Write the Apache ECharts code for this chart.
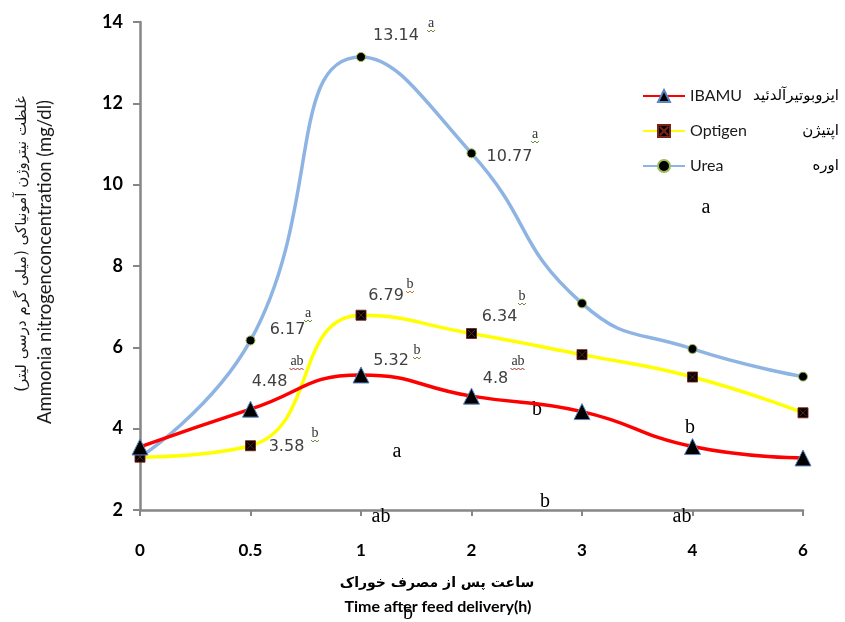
<!DOCTYPE html>
<html>
<head>
<meta charset="utf-8">
<script src="https://cdn.jsdelivr.net/npm/echarts@6/dist/echarts.min.js"></script>
<style>html,body{margin:0;padding:0;background:#fff}#c{width:845px;height:622px}</style>
</head>
<body>
<div id="c"></div>
<script>
// ---- data ----
const categories = ['0', '0.5', '1', '2', '3', '4', '6'];
const ibamu   = [3.55, 4.48, 5.32, 4.8, 4.42, 3.56, 3.28];
const optigen = [3.3, 3.58, 6.79, 6.34, 5.82, 5.27, 4.39];
const urea    = [3.3, 6.17, 13.14, 10.77, 7.08, 5.96, 5.28];
const seriesNames = ['IBAMU', 'Optigen', 'Urea'];
const seriesNamesFa = ['ایزوبوتیرآلدئید', 'اپتیژن', 'اوره'];
const labelledIdx = [1, 2, 3];
const yTicks = [2, 4, 6, 8, 10, 12, 14];

// ---- layout of labels (styling) ----
const labelOffsets = {
  IBAMU:   {1: [19, -27], 2: [30, -14], 3: [24, -17]},
  Optigen: {1: [36, 1],   2: [25, -19], 3: [28, -17]},
  Urea:    {1: [37, -11], 2: [35, -21], 3: [38, 3]}
};
// significance letters (annotation text) with pixel placement
const smallLetters = [
  ['a', 431, 23, '#6a8f3a'], ['a', 535, 134, '#6a8f3a'], ['a', 308, 313, '#6a8f3a'],
  ['b', 410, 284, '#c07a1a'], ['b', 522, 296, '#6a8f3a'], ['ab', 297, 361, '#a0322a'],
  ['b', 417, 350, '#6a8f3a'], ['ab', 518, 361, '#a0322a'], ['b', 315, 433, '#6a8f3a']
];
const bigLetters = [
  ['a', 706, 208], ['a', 397, 452], ['b', 537, 410], ['b', 690, 428],
  ['b', 545, 502], ['ab', 381, 517], ['ab', 682, 517], ['b', 408, 614]
];

const FONT = 'Lato, "DejaVu Sans", sans-serif';
const chart = echarts.init(document.getElementById('c'));

function buildData(name, values) {
  return values.map((v, i) => {
    if (labelledIdx.indexOf(i) < 0) return v;
    return {
      value: v,
      label: {
        show: true, position: 'inside', offset: labelOffsets[name][i],
        formatter: String(v), color: '#404040', fontSize: 16, fontFamily: '"DejaVu Sans", sans-serif'
      }
    };
  });
}

const styles = {
  IBAMU:   {color: '#FF0000', symbol: 'triangle', size: 16, fill: '#000', border: '#5b86c0', bw: 1},
  Optigen: {color: '#FFFF00', symbol: 'path://M0,0H10V10H0Z M1.5,1.5L8.5,8.5 M8.5,1.5L1.5,8.5', size: 10, fill: '#000', border: '#7a2418', bw: 0.9},
  Urea:    {color: '#8EB4E3', symbol: 'circle', size: 9, fill: '#000', border: '#9BBB59', bw: 1}
};
const values = {IBAMU: ibamu, Optigen: optigen, Urea: urea};

const series = seriesNames.map(n => ({
  name: n, type: 'line', smooth: 0.5,
  data: buildData(n, values[n]),
  symbol: styles[n].symbol, symbolSize: styles[n].size, showAllSymbol: true,
  lineStyle: {color: styles[n].color, width: 3.5},
  itemStyle: {color: styles[n].fill, borderColor: styles[n].border, borderWidth: styles[n].bw},
  z: n === 'IBAMU' ? 4 : (n === 'Optigen' ? 3 : 2)
}));

const graphics = [];
smallLetters.forEach(([t, x, y, uc]) => {
  graphics.push({type: 'text', x: x, y: y, z: 10, style: {text: t, fontFamily: '"Liberation Serif", serif', fontSize: 14, fill: '#333', align: 'center', verticalAlign: 'middle'}});
  graphics.push({type: 'polyline', z: 10, shape: {points: (function(){const w = t.length*7+1; const p=[]; for(let k=0;k<=w;k+=2){p.push([x - w/2 + k, y + 8 + ((k/2)%2 ? 1 : -1)]);} return p;})()}, style: {stroke: uc, lineWidth: 1, fill: null}});
});
bigLetters.forEach(([t, x, y]) => {
  graphics.push({type: 'text', x: x, y: y, z: 1, style: {text: t, fontFamily: '"Liberation Serif", serif', fontSize: 20, fill: '#000', align: 'center', verticalAlign: 'middle'}});
});
// axis titles
graphics.push({type: 'text', x: 437, y: 583, z: 5, style: {text: 'ساعت پس از مصرف خوراک', fontFamily: '"DejaVu Sans", sans-serif', fontWeight: 'bold', fontSize: 14, fill: '#000', align: 'center', verticalAlign: 'middle'}});
graphics.push({type: 'text', x: 438, y: 607, z: 5, style: {text: 'Time after feed delivery(h)', fontFamily: FONT, fontWeight: 'bold', fontSize: 16, fill: '#000', align: 'center', verticalAlign: 'middle'}});
graphics.push({type: 'text', x: 22, y: 244, rotation: Math.PI/2, z: 5, style: {text: 'غلظت نیتروژن آمونیاکی (میلی گرم درسی لیتر)', fontFamily: '"DejaVu Sans", sans-serif', fontSize: 15, fill: '#1a1a1a', align: 'center', verticalAlign: 'middle'}});
graphics.push({type: 'text', x: 45, y: 262, rotation: Math.PI/2, z: 5, style: {text: 'Ammonia nitrogenconcentration (mg/dl)', fontFamily: FONT, fontSize: 18.5, fill: '#1a1a1a', align: 'center', verticalAlign: 'middle'}});

chart.setOption({
  animation: false,
  backgroundColor: '#fff',
  grid: {left: 140, right: 42, top: 22, bottom: 112, containLabel: false},
  xAxis: {
    type: 'category', data: categories, boundaryGap: false,
    axisLine: {lineStyle: {color: '#868686', width: 2.5}},
    axisTick: {show: true, alignWithLabel: true, length: 6, lineStyle: {color: '#868686', width: 2}},
    axisLabel: {color: '#000', fontWeight: 'bold', fontSize: 17, fontFamily: FONT, margin: 32},
    splitLine: {show: false}
  },
  yAxis: {
    type: 'value', min: yTicks[0], max: yTicks[yTicks.length-1], interval: 2,
    axisLine: {show: true, lineStyle: {color: '#868686', width: 2.5}},
    axisTick: {show: true, length: 7, lineStyle: {color: '#868686', width: 2}},
    axisLabel: {color: '#000', fontWeight: 'bold', fontSize: 18, fontFamily: FONT, margin: 17},
    splitLine: {show: false}
  },
  legend: {
    orient: 'vertical', left: 637, top: 83, itemWidth: 42, itemHeight: 15, itemGap: 19,
    data: seriesNames,
    formatter: function(name) {
      const i = seriesNames.indexOf(name);
      return '{en|' + name + '}{fa|' + seriesNamesFa[i] + '}';
    },
    textStyle: {
      rich: {
        en: {width: 54, fontSize: 16, fontFamily: FONT, color: '#1a1a1a'},
        fa: {width: 95, align: 'right', fontSize: 15, fontFamily: '"DejaVu Sans", sans-serif', color: '#000'}
      }
    }
  },
  series: series,
  graphic: graphics
});
</script>
</body>
</html>
